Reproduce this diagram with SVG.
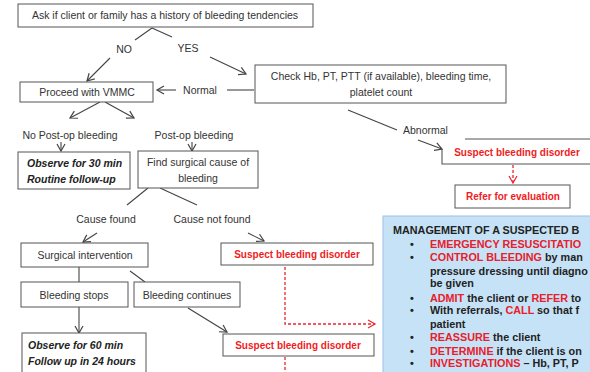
<svg xmlns="http://www.w3.org/2000/svg" width="590" height="372" viewBox="0 0 590 372">
<defs>
<style>
.t{font-family:"Liberation Sans",Arial,sans-serif;font-size:10.5px;fill:#333}
.c{text-anchor:middle}
.bi{font-weight:bold;font-style:italic;fill:#222}
.r{font-family:"Liberation Sans",Arial,sans-serif;font-size:10px;font-weight:bold;fill:#f01c24;text-anchor:middle}
.box{fill:#fff;stroke:#555;stroke-width:1}
.ln{fill:none;stroke:#444;stroke-width:1.1}
.dr{fill:none;stroke:#f0242c;stroke-width:1.3;stroke-dasharray:3,2}
.m{font-family:"Liberation Sans",Arial,sans-serif;font-size:10.8px;font-weight:bold;fill:#222}
.mr{fill:#e8202a}
</style>
<marker id="ah" markerWidth="10" markerHeight="10" refX="8" refY="5" orient="auto" markerUnits="userSpaceOnUse">
<path d="M1,1 L8,5 L1,9" fill="none" stroke="#444" stroke-width="1.2"/>
</marker>
<marker id="ahr" markerWidth="10" markerHeight="10" refX="8" refY="5" orient="auto" markerUnits="userSpaceOnUse">
<path d="M1,1 L8,5 L1,9" fill="none" stroke="#f0242c" stroke-width="1.2"/>
</marker>
</defs>
<rect width="590" height="372" fill="#fff"/>

<g id="connectors">
<path class="ln" d="M152,28 L135,40"/>
<path class="ln" d="M152,28 L172,37"/>
<path class="ln" d="M110,58 L87,81" marker-end="url(#ah)"/>
<path class="ln" d="M210,57 L246,74" marker-end="url(#ah)"/>
<path class="ln" d="M254,90 L227,90"/>
<path class="ln" d="M176,90 L157,90" marker-end="url(#ah)"/>
<path class="ln" d="M100,102 L70,118" marker-end="url(#ah)"/>
<path class="ln" d="M105,102 L134,118" marker-end="url(#ah)"/>
<path class="ln" d="M61,142 L61,151" marker-end="url(#ah)"/>
<path class="ln" d="M192,142 L192,151" marker-end="url(#ah)"/>
<path class="ln" d="M348,110 L397,130"/>
<path class="ln" d="M418,140 L442,149" marker-end="url(#ah)"/>
<path class="ln" d="M148,188 L127,205"/>
<path class="ln" d="M160,188 L197,205"/>
<path class="ln" d="M97,233 L83,242" marker-end="url(#ah)"/>
<path class="ln" d="M248,233 L264,241" marker-end="url(#ah)"/>
<path class="ln" d="M79,267 L79,282"/>
<path class="ln" d="M130,271 L145,282"/>
<path class="ln" d="M79,307 L79,333" marker-end="url(#ah)"/>
<path class="ln" d="M188,308 L227,332" marker-end="url(#ah)"/>
<path class="dr" d="M513,165 L513,183" marker-end="url(#ahr)"/>
<path class="dr" d="M285,267 L285,324 L375,324" marker-end="url(#ahr)"/>
<path class="dr" d="M285,357 L285,372"/>
</g>

<g id="ask">
<rect class="box" x="18" y="4" width="295" height="23"/>
<text class="t c" x="165" y="19">Ask if client or family has a history of bleeding tendencies</text>
</g>
<g id="lbl-no"><text class="t c" x="124" y="53">NO</text></g>
<g id="lbl-yes"><text class="t c" x="188" y="52">YES</text></g>

<g id="proceed">
<rect class="box" x="20" y="82" width="133" height="20"/>
<text class="t c" x="87" y="96">Proceed with VMMC</text>
</g>
<g id="lbl-normal"><text class="t c" x="200" y="94">Normal</text></g>

<g id="check">
<rect class="box" x="255" y="65" width="251" height="38"/>
<text class="t c" x="381" y="80">Check Hb, PT, PTT (if available), bleeding time,</text>
<text class="t c" x="381" y="96">platelet count</text>
</g>
<g id="lbl-abnormal"><text class="t" x="403" y="134">Abnormal</text></g>

<g id="suspect1">
<path class="ln" d="M465,139 H595 M442,149 V164 H595" style="stroke:#555"/>
<text class="r" x="517" y="156">Suspect bleeding disorder</text>
</g>
<g id="refer">
<rect class="box" x="455" y="185" width="115" height="23"/>
<text class="r" x="513" y="200">Refer for evaluation</text>
</g>

<g id="lbl-nopostop"><text class="t c" x="70" y="139">No Post-op bleeding</text></g>
<g id="lbl-postop"><text class="t c" x="194" y="139">Post-op bleeding</text></g>

<g id="observe30">
<rect class="box" x="18" y="152" width="112" height="37"/>
<text class="t bi" x="27" y="167">Observe for 30 min</text>
<text class="t bi" x="27" y="183">Routine follow-up</text>
</g>
<g id="find">
<rect class="box" x="138" y="151" width="120" height="37"/>
<text class="t c" x="198" y="166">Find surgical cause of</text>
<text class="t c" x="198" y="182">bleeding</text>
</g>

<g id="lbl-found"><text class="t c" x="106" y="223">Cause found</text></g>
<g id="lbl-notfound"><text class="t c" x="212" y="223">Cause not found</text></g>

<g id="surgical">
<rect class="box" x="21" y="243" width="127" height="24"/>
<text class="t c" x="85" y="259">Surgical intervention</text>
</g>
<g id="suspect2">
<rect class="box" x="221" y="243" width="152" height="22"/>
<text class="r" x="297" y="258">Suspect bleeding disorder</text>
</g>
<g id="stops">
<rect class="box" x="21" y="282" width="107" height="25"/>
<text class="t c" x="74" y="299">Bleeding stops</text>
</g>
<g id="continues">
<rect class="box" x="134" y="282" width="106" height="25"/>
<text class="t c" x="187" y="299">Bleeding continues</text>
</g>
<g id="observe60">
<rect class="box" x="22" y="333" width="124" height="45"/>
<text class="t bi" x="28" y="349">Observe for 60 min</text>
<text class="t bi" x="28" y="365">Follow up in 24 hours</text>
</g>
<g id="suspect3">
<rect class="box" x="223" y="334" width="151" height="22"/>
<text class="r" x="298" y="349">Suspect bleeding disorder</text>
</g>

<g id="management">
<rect x="383" y="216" width="220" height="170" fill="#c6e2f7" stroke="#9cc2e4" stroke-width="1"/>
<text class="m" x="393" y="234">MANAGEMENT OF A SUSPECTED B</text>
<g class="m">
<text x="410" y="248">•</text>
<text x="430" y="248"><tspan class="mr">EMERGENCY RESUSCITATIO</tspan></text>
<text x="410" y="261">•</text>
<text x="430" y="261"><tspan class="mr">CONTROL BLEEDING</tspan> by man</text>
<text x="430" y="275">pressure dressing until diagno</text>
<text x="430" y="287">be given</text>
<text x="410" y="302">•</text>
<text x="430" y="302"><tspan class="mr">ADMIT</tspan> the client or <tspan class="mr">REFER</tspan> to</text>
<text x="410" y="314">•</text>
<text x="430" y="314">With referrals, <tspan class="mr">CALL</tspan> so that f</text>
<text x="430" y="328">patient</text>
<text x="410" y="341">•</text>
<text x="430" y="341"><tspan class="mr">REASSURE</tspan> the client</text>
<text x="410" y="355">•</text>
<text x="430" y="355"><tspan class="mr">DETERMINE</tspan> if the client is on</text>
<text x="410" y="367">•</text>
<text x="430" y="367"><tspan class="mr">INVESTIGATIONS</tspan> – Hb, PT, P</text>
</g>
</g>
</svg>
